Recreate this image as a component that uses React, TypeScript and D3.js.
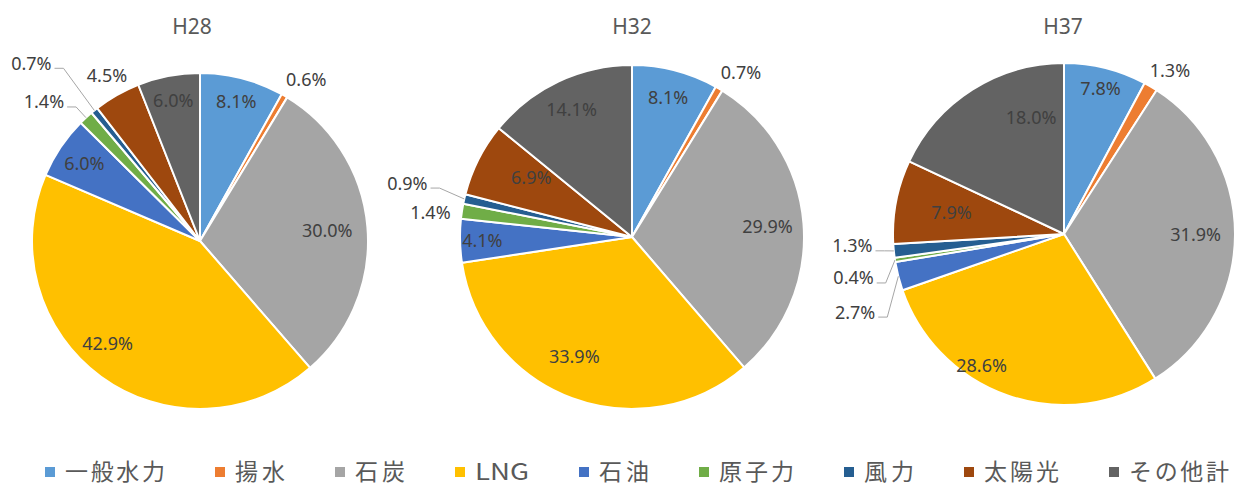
import React from 'react';
import * as d3 from 'd3';

// 電源種別
const categories = ['一般水力', '揚水', '石炭', 'LNG', '石油', '原子力', '風力', '太陽光', 'その他計'];
const colors = ['#5B9BD5', '#ED7D31', '#A5A5A5', '#FFC000', '#4472C4', '#70AD47', '#255E91', '#9E480E', '#636363'];

const years = ['H28', 'H32', 'H37'];
// 構成比(%)
const shareH28 = [8.1, 0.6, 30.0, 42.9, 6.0, 1.4, 0.7, 4.5, 6.0];
const shareH32 = [8.1, 0.7, 29.9, 33.9, 4.1, 1.4, 0.9, 6.9, 14.1];
const shareH37 = [7.8, 1.3, 31.9, 28.6, 2.7, 0.4, 1.3, 7.9, 18.0];
const shares = [shareH28, shareH32, shareH37];

const WIDTH = 1247;
const HEIGHT = 486;

// 円の配置
const layout = [
  { cx: 200, cy: 241, r: 168, titleX: 192 },
  { cx: 632, cy: 237, r: 172, titleX: 632 },
  { cx: 1064, cy: 234, r: 171, titleX: 1063 },
];

interface Place {
  k?: number; // 内側ラベルの半径比
  da?: number; // 角度の補正(度)
  deg?: number; // 外側ラベルの角度(度)
  d?: number; // 外側ラベルの距離
  leader?: boolean;
}

// ラベル配置の補正 (Excelのベストフィットに合わせる)
const labelPlace: Record<number, Place>[] = [
  {
    0: { k: 0.86 },
    1: { deg: 33.4, d: 193 },
    2: { k: 0.76 },
    3: { da: 6 },
    4: { k: 0.83 },
    5: { deg: 311.7, d: 209, leader: true },
    6: { deg: 316.5, d: 245, leader: true },
    7: { deg: 330.7, d: 190 },
    8: { k: 0.85 },
  },
  {
    0: { k: 0.835 },
    1: { deg: 33.6, d: 197 },
    2: { k: 0.79 },
    3: { da: 5.5, k: 0.77 },
    4: { k: 0.87 },
    5: { deg: 276.8, d: 203 },
    6: { deg: 283.5, d: 231, leader: true },
    7: { k: 0.68, da: 3.7 },
    8: { k: 0.82 },
  },
  {
    0: { k: 0.88 },
    1: { deg: 32.9, d: 195 },
    2: { k: 0.77 },
    3: { da: 12.7, k: 0.91 },
    4: { deg: 249.5, d: 223, leader: true },
    5: { deg: 258.2, d: 215, leader: true },
    6: { deg: 266.8, d: 212, leader: true },
    7: { k: 0.67 },
    8: { da: 16.7, k: 0.71 },
  },
];

const LABEL_FONT = 18;
const textColor = '#404040';

const rad = (deg: number) => (deg * Math.PI) / 180;
const polar = (cx: number, cy: number, a: number, d: number) => [cx + d * Math.sin(a), cy - d * Math.cos(a)];

// 数字ラベルのおおよその幅
const labelWidth = (s: string) =>
  s.split('').reduce((w, c) => w + (c === '.' ? 0.27 : c === '%' ? 0.825 : 0.572), 0) * LABEL_FONT;

const isLatin = (s: string) => /^[A-Za-z]+$/.test(s);
const legendWidth = (s: string) => s.split('').reduce((w, c) => w + (/[A-Za-z]/.test(c) ? 18 : 25), 0);

function Pie({ values, idx }: { values: number[]; idx: number }) {
  const { cx, cy, r, titleX } = layout[idx];
  const pie = d3.pie<number>().sort(null).value((d) => d);
  const arcs = pie(values);
  const arc = d3.arc<d3.PieArcDatum<number>>().innerRadius(0).outerRadius(r);
  const places = labelPlace[idx];

  return (
    <g>
      <text
        x={titleX}
        y={34}
        textAnchor="middle"
        fontFamily="'Noto Sans', sans-serif"
        fontSize={21}
        fill="#595959"
      >
        {years[idx]}
      </text>
      <g transform={`translate(${cx},${cy})`}>
        {arcs.map((a, i) => (
          <path key={i} d={arc(a) || ''} fill={colors[i]} stroke="#fff" strokeWidth={2} strokeLinejoin="round" />
        ))}
      </g>
      {arcs.map((a, i) => {
        const p = places[i] || {};
        const mid = (a.startAngle + a.endAngle) / 2;
        const label = `${values[i].toFixed(1)}%`;
        let x: number;
        let y: number;
        if (p.deg !== undefined) {
          [x, y] = polar(cx, cy, rad(p.deg), p.d || r + 24);
        } else {
          [x, y] = polar(cx, cy, mid + rad(p.da || 0), (p.k || 0.82) * r);
        }
        let leader = null;
        if (p.leader) {
          const [ex, ey] = polar(cx, cy, mid, r);
          const right = x + labelWidth(label) / 2;
          const ly = y + 5;
          leader = (
            <polyline
              points={`${ex},${ey} ${right + 12},${ly} ${right + 3},${ly}`}
              fill="none"
              stroke="#a6a6a6"
              strokeWidth={1}
            />
          );
        }
        return (
          <g key={`l${i}`}>
            {leader}
            <text
              x={x}
              y={y}
              dy="0.36em"
              textAnchor="middle"
              fontFamily="'Noto Sans', sans-serif"
              fontSize={LABEL_FONT}
              fill={textColor}
            >
              {label}
            </text>
          </g>
        );
      })}
    </g>
  );
}

function Legend() {
  let x = 45;
  const items = categories.map((c, i) => {
    const w = legendWidth(c);
    const item = { c, i, x, w };
    x += 20 + w + 50;
    return item;
  });
  return (
    <g>
      {items.map(({ c, i, x: lx, w }) => (
        <g key={c}>
          <rect x={lx} y={467} width={10} height={10} fill={colors[i]} />
          <text
            x={lx + 20}
            y={472}
            dy="0.36em"
            fontFamily="'Noto Sans CJK JP', 'Noto Sans', sans-serif"
            fontSize={23}
            fill="#595959"
            textLength={w}
            lengthAdjust={isLatin(c) ? 'spacingAndGlyphs' : 'spacing'}
          >
            {c}
          </text>
        </g>
      ))}
    </g>
  );
}

export default function App() {
  return (
    <svg
      width={WIDTH}
      height={HEIGHT}
      viewBox={`0 0 ${WIDTH} ${HEIGHT}`}
      style={{ position: 'absolute', left: 0, top: 0, background: '#fff' }}
    >
      {shares.map((v, i) => (
        <Pie key={years[i]} values={v} idx={i} />
      ))}
      <Legend />
    </svg>
  );
}
